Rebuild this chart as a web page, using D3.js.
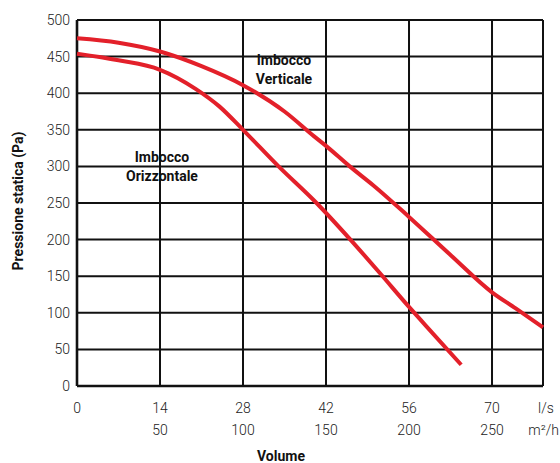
<!DOCTYPE html>
<html>
<head>
<meta charset="utf-8">
<script src="https://cdn.jsdelivr.net/npm/d3@7"></script>
<style>
  body { margin: 0; background: #fff; }
  svg { display: block; }
  .tick-label { font-family: Roboto, "Liberation Sans", sans-serif; font-weight: 300; font-size: 14px; fill: #222; }
  .bold-label { font-family: "Liberation Sans Narrow", "Roboto", sans-serif; font-weight: 700; font-size: 14px; fill: #111; }
</style>
</head>
<body>
<svg class="chart"></svg>
<script>
const MARGIN = { top: 20, right: 17, bottom: 77, left: 77 };
const W = 560, H = 463;
const WIDTH = W - MARGIN.left - MARGIN.right;
const HEIGHT = H - MARGIN.top - MARGIN.bottom;

// x in l/s, y in Pa
const X_MAX = 78.6;
const xTicksLs = [0, 14, 28, 42, 56, 70];
const xTicksM3h = ['', '50', '100', '150', '200', '250'];
const yTicks = [0, 50, 100, 150, 200, 250, 300, 350, 400, 450, 500];

const verticale = [
  [0, 475], [7, 469], [14, 457], [21, 437], [28, 411], [35, 375], [40, 341],
  [42, 328], [46, 300], [50, 274], [56, 231], [63, 179], [70, 128],
  [74, 106], [78.6, 80]
];
const orizzontale = [
  [0, 454], [7, 445], [14, 432], [20, 406], [24, 382], [28, 350], [34, 300],
  [40.4, 250], [46, 201], [51, 155], [56, 108], [60, 72], [64.8, 29]
];

const svg = d3.select('svg.chart').attr('width', W).attr('height', H);
const chart = svg.append('g').attr('transform', `translate(${MARGIN.left},${MARGIN.top})`);

const x = d3.scaleLinear().domain([0, X_MAX]).range([0, WIDTH]);
const y = d3.scaleLinear().domain([0, 500]).range([HEIGHT, 0]);

// grid
chart.selectAll('.hgrid').data(yTicks).enter().append('line')
  .attr('x1', 0).attr('x2', WIDTH)
  .attr('y1', d => y(d)).attr('y2', d => y(d))
  .attr('stroke', '#111').attr('stroke-width', 2);

chart.selectAll('.vgrid').data(xTicksLs.concat([X_MAX])).enter().append('line')
  .attr('x1', d => x(d)).attr('x2', d => x(d))
  .attr('y1', 0).attr('y2', HEIGHT)
  .attr('stroke', '#111').attr('stroke-width', 2);

// axis lines heavier
chart.append('line').attr('x1', 0).attr('x2', 0).attr('y1', 0).attr('y2', HEIGHT)
  .attr('stroke', '#111').attr('stroke-width', 2.6);
chart.append('line').attr('x1', 0).attr('x2', WIDTH).attr('y1', HEIGHT).attr('y2', HEIGHT)
  .attr('stroke', '#111').attr('stroke-width', 2.6);

// y tick labels
chart.selectAll('.ylab').data(yTicks).enter().append('text')
  .attr('class', 'tick-label')
  .attr('x', -7).attr('y', d => y(d))
  .attr('dy', '0.35em')
  .attr('text-anchor', 'end')
  .text(d => d);

// x tick labels, two rows
chart.selectAll('.xlab').data(xTicksLs).enter().append('text')
  .attr('class', 'tick-label')
  .attr('x', d => x(d)).attr('y', HEIGHT + 27)
  .attr('text-anchor', 'middle')
  .text(d => d);
chart.selectAll('.xlab2').data(xTicksLs).enter().append('text')
  .attr('class', 'tick-label')
  .attr('x', d => x(d)).attr('y', HEIGHT + 49)
  .attr('text-anchor', 'middle')
  .text((d, i) => xTicksM3h[i]);

chart.append('text').attr('class', 'tick-label')
  .attr('x', WIDTH + 3).attr('y', HEIGHT + 27).attr('text-anchor', 'middle')
  .text('l/s');
chart.append('text').attr('class', 'tick-label')
  .attr('x', W - MARGIN.left - 1).attr('y', HEIGHT + 49).attr('text-anchor', 'end')
  .text('m²/h');

// curves
const line = d3.line()
  .x(d => x(d[0]))
  .y(d => y(d[1]))
  .curve(d3.curveMonotoneX);

[verticale, orizzontale].forEach(series => {
  chart.append('path')
    .datum(series)
    .attr('d', line)
    .attr('fill', 'none')
    .attr('stroke', '#e3202a')
    .attr('stroke-width', 4)
    .attr('stroke-linecap', 'butt');
});

// curve labels
const labelV = chart.append('text').attr('class', 'bold-label').attr('text-anchor', 'middle');
labelV.append('tspan').attr('x', 207).attr('y', 45).text('Imbocco');
labelV.append('tspan').attr('x', 207).attr('y', 64).text('Verticale');

const labelO = chart.append('text').attr('class', 'bold-label').attr('text-anchor', 'middle');
labelO.append('tspan').attr('x', 85).attr('y', 142).text('Imbocco');
labelO.append('tspan').attr('x', 85).attr('y', 161).text('Orizzontale');

// axis titles
svg.append('text').attr('class', 'bold-label')
  .attr('transform', `translate(23,${MARGIN.top + HEIGHT / 2 - 2}) rotate(-90)`)
  .attr('text-anchor', 'middle')
  .text('Pressione statica (Pa)');

svg.append('text').attr('class', 'bold-label')
  .attr('x', 281).attr('y', 461)
  .attr('text-anchor', 'middle')
  .text('Volume');
</script>
</body>
</html>
